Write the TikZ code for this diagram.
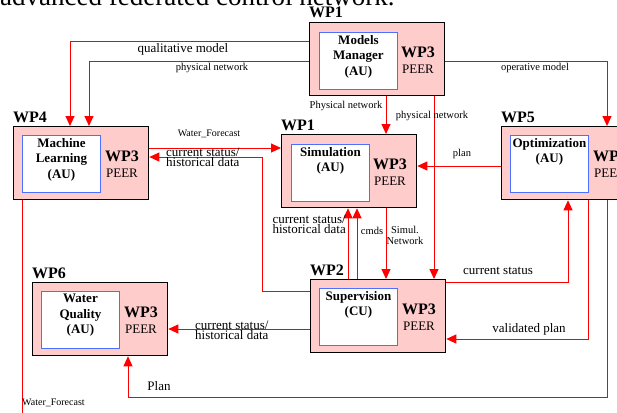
\documentclass[tikz,border=0pt]{standalone}
\usepackage{fontspec}
\setmainfont{Liberation Serif}
\usetikzlibrary{arrows.meta}
\definecolor{pinkfill}{HTML}{FFCCCC}
\definecolor{blueline}{HTML}{4F6FFF}
\tikzset{
  outerbox/.style={draw=black, line width=1.3pt, fill=pinkfill, minimum width=135pt, minimum height=73pt, inner sep=0pt, anchor=north west},
  innerbox/.style={draw=blueline, line width=0.9pt, fill=white, minimum width=78pt, minimum height=57pt, inner sep=0pt, anchor=north west},
  unitname/.style={anchor=north, align=center, inner sep=0pt, font=\fontsize{13}{15.5}\selectfont\bfseries},
  wplabel/.style={anchor=base west, inner sep=0pt, font=\fontsize{16}{18}\selectfont\bfseries},
  wpthree/.style={inner sep=0pt, font=\fontsize{16}{18}\selectfont\bfseries},
  peer/.style={inner sep=0pt, font=\fontsize{13}{15}\selectfont},
  conn/.style={draw=red, line width=1pt},
  arr/.style={conn, -{Triangle[length=10pt,width=9pt]}},
  biglbl/.style={inner sep=0pt, font=\fontsize{13}{10}\selectfont},
  smalllbl/.style={inner sep=0pt, font=\fontsize{10.5}{11}\selectfont},
}
\begin{document}
\begin{tikzpicture}[x=1pt,y=-1pt]
\useasboundingbox (0,0) rectangle (617,412);

% partially visible title (mostly above the picture's top edge)
\node[anchor=base west, inner sep=0pt, font=\fontsize{27}{29}\selectfont] (title) at (0,5.5) {advanced federated control network.};

% ---------- boxes ----------
% Models Manager
\node[outerbox] (mm) at (309,22) {};
\node[innerbox] (mmi) at (319,32) {};
\node[unitname] (mmt) at ([yshift=-3pt]mmi.north) {Models\\Manager\\(AU)};
\node[wpthree] (mmw) at ([xshift=109pt,yshift=-30pt]mm.north west) {WP3};
\node[peer] (mmp) at ([xshift=109pt,yshift=-47pt]mm.north west) {PEER};
\node[wplabel] (mml) at ([yshift=4pt]mm.north west) {WP1};

% Machine Learning
\node[outerbox] (ml) at (13,126) {};
\node[innerbox] (mli) at (22,135) {};
\node[unitname] (mlt) at ([yshift=-3pt]mli.north) {Machine\\Learning\\(AU)};
\node[wpthree] (mlw) at ([xshift=109pt,yshift=-30pt]ml.north west) {WP3};
\node[peer] (mlp) at ([xshift=109pt,yshift=-47pt]ml.north west) {PEER};
\node[wplabel] (mll) at ([yshift=4pt]ml.north west) {WP4};

% Simulation
\node[outerbox] (sim) at (281,134) {};
\node[innerbox] (simi) at (291,144) {};
\node[unitname] (simt) at ([yshift=-3pt]simi.north) {Simulation\\(AU)};
\node[wpthree] (simw) at ([xshift=109pt,yshift=-30pt]sim.north west) {WP3};
\node[peer] (simp) at ([xshift=109pt,yshift=-47pt]sim.north west) {PEER};
\node[wplabel] (siml) at ([yshift=4pt]sim.north west) {WP1};

% Optimization
\node[outerbox] (opt) at (501,126) {};
\node[innerbox] (opti) at (510,135) {};
\node[unitname] (optt) at ([yshift=-3pt]opti.north) {Optimization\\(AU)};
\node[wpthree] (optw) at ([xshift=109pt,yshift=-30pt]opt.north west) {WP3};
\node[peer] (optp) at ([xshift=109pt,yshift=-47pt]opt.north west) {PEER};
\node[wplabel] (optl) at ([yshift=4pt]opt.north west) {WP5};

% Supervision
\node[outerbox] (sup) at (310,279) {};
\node[innerbox] (supi) at (319,288) {};
\node[unitname] (supt) at ([yshift=-3pt]supi.north) {Supervision\\(CU)};
\node[wpthree] (supw) at ([xshift=109pt,yshift=-30pt]sup.north west) {WP3};
\node[peer] (supp) at ([xshift=109pt,yshift=-47pt]sup.north west) {PEER};
\node[wplabel] (supl) at ([yshift=4pt]sup.north west) {WP2};

% Water Quality
\node[outerbox] (wq) at (32,282) {};
\node[innerbox] (wqi) at (41,291) {};
\node[unitname] (wqt) at ([yshift=-3pt]wqi.north) {Water\\Quality\\(AU)};
\node[wpthree] (wqw) at ([xshift=109pt,yshift=-30pt]wq.north west) {WP3};
\node[peer] (wqp) at ([xshift=109pt,yshift=-47pt]wq.north west) {PEER};
\node[wplabel] (wql) at ([yshift=4pt]wq.north west) {WP6};

% ---------- connectors ----------
\draw[arr] (mm.west |- 0,42) -| (70,0 |- ml.north);
\draw[arr] (mm.west |- 0,61) -| (89,0 |- ml.north);
\draw[arr] (mm.east |- 0,61) -| (607,0 |- opt.north);
\draw[arr] (386,0 |- mm.south) -- (386,0 |- sim.north);
\draw[arr] (434,0 |- mm.south) -- (434,0 |- sup.north);
\draw[arr] (ml.east |- 0,148) -- (sim.west |- 0,148);
\draw[arr] (sup.west |- 0,291) -| (262,157) -- (ml.east |- 0,157);
\draw[arr] (348,0 |- sup.north) -- (348,0 |- sim.south);
\draw[arr] (357,0 |- sup.north) -- (357,0 |- sim.south);
\draw[arr] (386,0 |- sim.south) -- (386,0 |- sup.north);
\draw[arr] (opt.west |- 0,166) -- (sim.east |- 0,166);
\draw[arr] (sup.east |- 0,282) -| (568,0 |- opt.south);
\draw[arr] (588,0 |- opt.south) |- (sup.east |- 0,339);
\draw[arr] (607,0 |- opt.south) |- (128,397) -- (128,0 |- wq.south);
\draw[arr] (sup.west |- 0,329) -- (wq.east |- 0,329);
\coordinate (wfend) at (22,416);
\draw[conn] (22,0 |- ml.south) -- (wfend);

% ---------- labels ----------
\node[biglbl] (l1) at (183,49) {qualitative model};
\node[smalllbl] (l2) at (212,68) {physical network};
\node[smalllbl] (l3) at (535,68) {operative model};
\node[smalllbl] (l4) at (346,106) {Physical network};
\node[smalllbl] (l5) at (432,116) {physical network};
\node[smalllbl, font=\fontsize{10}{11}\selectfont] (l6) at (209,134) {Water\_Forecast};
\node[biglbl, anchor=base west, align=left] (l7) at (166,166.5) {current status/\\historical data};
\node[biglbl, anchor=base east, align=right] (l8) at (346,233) {current status/\\historical data};
\node[smalllbl] (l9) at (372,231) {cmds};
\node[smalllbl, align=center, anchor=base] (l10) at (405,244) {Simul.\\Network};
\node[smalllbl] (l11) at (462,154) {plan};
\node[biglbl] (l12) at (498,271) {current status};
\node[biglbl] (l13) at (529,329) {validated plan};
\node[biglbl] (l14) at (159,386) {Plan};
\node[biglbl, anchor=base west, align=left] (l15) at (195,339) {current status/\\historical data};
\node[smalllbl, anchor=west, font=\fontsize{10}{11}\selectfont] (l16) at (22,403) {Water\_Forecast};
\end{tikzpicture}
\end{document}
